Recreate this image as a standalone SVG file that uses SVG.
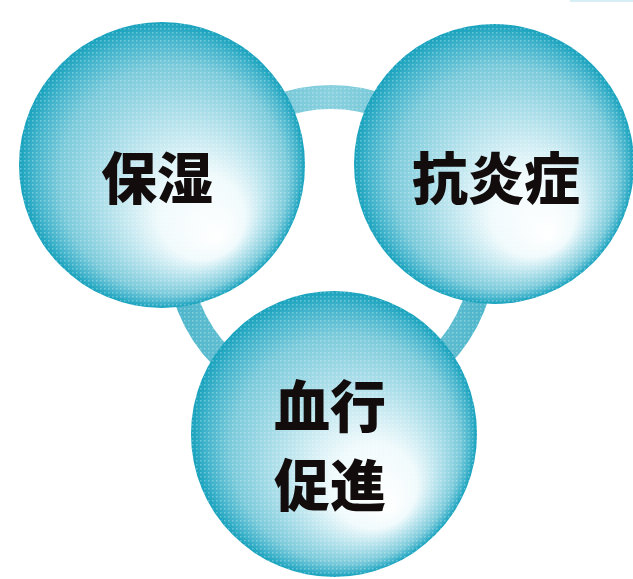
<svg xmlns="http://www.w3.org/2000/svg" width="633" height="579" viewBox="0 0 633 579">
  <defs>
    <radialGradient id="sphere" cx="0.5" cy="0.5" r="0.5" fx="0.70" fy="0.76">
      <stop offset="0" stop-color="#ffffff"/>
      <stop offset="0.3" stop-color="#f0fafc"/>
      <stop offset="0.55" stop-color="#b5e2ec"/>
      <stop offset="0.8" stop-color="#7ccbdb"/>
      <stop offset="0.93" stop-color="#40b3cb"/>
      <stop offset="1" stop-color="#18a2bd"/>
    </radialGradient>
    <linearGradient id="ringGrad" x1="0" y1="0" x2="1" y2="0">
      <stop offset="0" stop-color="#4fb6cb"/>
      <stop offset="0.5" stop-color="#8ad1df"/>
      <stop offset="1" stop-color="#4fb6cb"/>
    </linearGradient>
    <pattern id="dots" width="4" height="4" patternUnits="userSpaceOnUse">
      <rect x="0" y="0" width="1.5" height="1.5" fill="#ffffff" opacity="0.3"/>
    </pattern>
  </defs>
  <style>
    .ball { fill: url(#sphere); }
    .tex { fill: url(#dots); }
    .lbl { font-family: "Noto Sans CJK JP", "Noto Sans CJK SC", sans-serif; font-weight: 900; font-size: 56px; fill: #120c0c; text-anchor: middle; }
  </style>
  <rect width="633" height="579" fill="#ffffff"/>
  <rect x="570" y="0" width="63" height="2" fill="#d6eef4"/>
  <g id="connectors">
    <circle cx="331" cy="250" r="153" fill="none" stroke="url(#ringGrad)" stroke-width="24"/>
    <circle cx="331" cy="250" r="153" fill="none" stroke="url(#dots)" stroke-width="24"/>
  </g>
  <g id="node-hoshitsu">
    <circle class="ball" cx="162" cy="165" r="143"/>
    <circle class="tex" cx="162" cy="165" r="143"/>
    <text class="lbl" x="157" y="199">保湿</text>
  </g>
  <g id="node-kouenshou">
    <circle class="ball" cx="494" cy="164" r="140"/>
    <circle class="tex" cx="494" cy="164" r="140"/>
    <text class="lbl" x="496" y="199">抗炎症</text>
  </g>
  <g id="node-kekkousokushin">
    <circle class="ball" cx="334" cy="434" r="143"/>
    <circle class="tex" cx="334" cy="434" r="143"/>
    <text class="lbl" x="330" y="427">血行</text>
    <text class="lbl" x="330" y="506">促進</text>
  </g>
</svg>
